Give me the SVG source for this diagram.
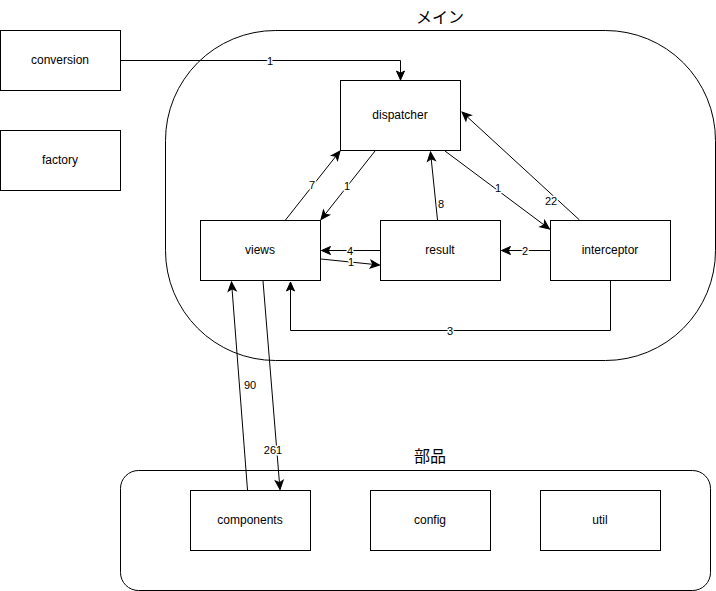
<svg xmlns="http://www.w3.org/2000/svg" width="716" height="591" viewBox="0 0 716 591">
<style>
.box{fill:#fff;stroke:#000;stroke-width:1}
.cont{fill:#fff;stroke:#000;stroke-width:1}
.t{font-family:"Liberation Sans",Arial,sans-serif;font-size:12px;fill:#000;text-anchor:middle;dominant-baseline:central}
.title{font-family:"Noto Sans CJK JP","Liberation Sans",sans-serif;font-size:16px;fill:#000;text-anchor:middle;dominant-baseline:central}
.e{fill:none;stroke:#000;stroke-width:1;marker-end:url(#arr)}
.l{font-family:"Liberation Sans",Arial,sans-serif;font-size:11px;fill:#000;text-anchor:middle;dominant-baseline:central;stroke:#fff;stroke-width:3px;paint-order:stroke;stroke-linejoin:round}
</style>
<defs>
<marker id="arr" markerUnits="userSpaceOnUse" markerWidth="10" markerHeight="8" refX="9" refY="4" orient="auto" overflow="visible">
<path d="M0,0 L9,4 L0,8 L2.2,4 Z" fill="#000" stroke="#000" stroke-width="1"/>
</marker>
</defs>
<rect width="716" height="591" fill="#fff"/>
<g id="main-container">
<rect class="cont" x="165.5" y="30.5" width="550" height="330" rx="110" ry="110"/>
<text class="title" x="440" y="16">メイン</text>
</g>
<g id="parts-container">
<rect class="cont" x="120.5" y="470.5" width="590" height="120" rx="18" ry="18"/>
<text class="title" x="430" y="455">部品</text>
</g>
<g id="conversion"><rect class="box" x="0.5" y="30.5" width="120" height="60"/><text class="t" x="60" y="60">conversion</text></g>
<g id="factory"><rect class="box" x="0.5" y="130.5" width="120" height="60"/><text class="t" x="60" y="160">factory</text></g>
<g id="dispatcher"><rect class="box" x="340.5" y="80.5" width="120" height="70"/><text class="t" x="400" y="115">dispatcher</text></g>
<g id="views"><rect class="box" x="200.5" y="220.5" width="120" height="60"/><text class="t" x="260" y="250">views</text></g>
<g id="result"><rect class="box" x="380.5" y="220.5" width="120" height="60"/><text class="t" x="440" y="250">result</text></g>
<g id="interceptor"><rect class="box" x="550.5" y="220.5" width="120" height="60"/><text class="t" x="610" y="250">interceptor</text></g>
<g id="components"><rect class="box" x="190.5" y="490.5" width="120" height="60"/><text class="t" x="250" y="520">components</text></g>
<g id="config"><rect class="box" x="370.5" y="490.5" width="120" height="60"/><text class="t" x="430" y="520">config</text></g>
<g id="util"><rect class="box" x="540.5" y="490.5" width="120" height="60"/><text class="t" x="600" y="520">util</text></g>
<g id="connectors">
<path class="e" d="M120.5,60.5 L400.5,60.5 L400.5,80"/>
<text class="l" x="270" y="60.5">1</text>
<path class="e" d="M285.5,220 L340,151"/>
<text class="l" x="312" y="185">7</text>
<path class="e" d="M375,151 L321,219.5"/>
<text class="l" x="347" y="186">1</text>
<path class="e" d="M445,151 L549.5,229"/>
<text class="l" x="498" y="188">1</text>
<path class="e" d="M579.5,220 L462,112"/>
<text class="l" x="551" y="201">22</text>
<path class="e" d="M437.5,220 L430.5,152"/>
<text class="l" x="441" y="204">8</text>
<path class="e" d="M380,250.5 L321.5,250.5"/>
<text class="l" x="350" y="250.5">4</text>
<path class="e" d="M321,259 L379.5,265"/>
<text class="l" x="351" y="262">1</text>
<path class="e" d="M550,250.5 L501.5,250.5"/>
<text class="l" x="525" y="250.5">2</text>
<path class="e" d="M610.5,281 L610.5,330.5 L290.5,330.5 L290.5,282"/>
<text class="l" x="450" y="330.5">3</text>
<path class="e" d="M247.5,490 L231.5,282"/>
<text class="l" x="250" y="385">90</text>
<path class="e" d="M263,281 L280,489.5"/>
<text class="l" x="273" y="450">261</text>
</g>
</svg>
